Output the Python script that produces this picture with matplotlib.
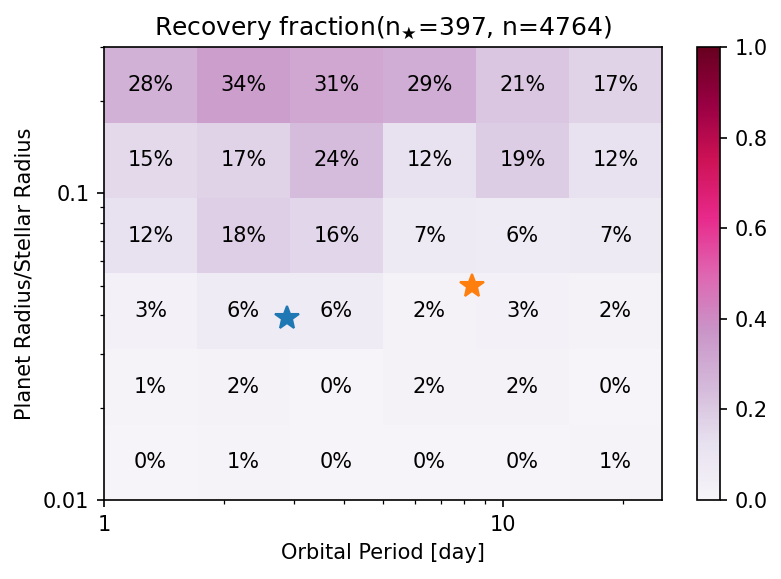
import numpy as np
import matplotlib
matplotlib.use('Agg')
import matplotlib.pyplot as plt

## DATA

period_edges = np.logspace(0, np.log10(25), 7)  # 6 period bins, 1-25 days
radius_edges = np.logspace(-2, np.log10(0.3), 7)  # 6 radius-ratio bins

# recovery percentages, rows from smallest radius bin (bottom) to largest (top)
recovery_pct = [
    [0, 1, 0, 0, 0, 1],
    [1, 2, 0, 2, 2, 0],
    [3, 6, 6, 2, 3, 2],
    [12, 18, 16, 7, 6, 7],
    [15, 17, 24, 12, 19, 12],
    [28, 34, 31, 29, 21, 17],
]

# highlighted planets
star_periods = [2.88, 8.37]
star_radii = [0.0393, 0.0498]
star_colors = ['tab:blue', 'tab:orange']

n_stars = 397
n_injections = 4764


## PLOT

frac = np.array(recovery_pct) / 100.0

fig = plt.figure(figsize=(782 / 150, 579 / 150), dpi=150)
ax = fig.add_axes([104 / 782, 79 / 579, 558 / 782, 453 / 579])
cax = fig.add_axes([697 / 782, 79 / 579, 23 / 782, 453 / 579])

mesh = ax.pcolormesh(period_edges, radius_edges, frac, cmap='PuRd', vmin=0, vmax=1)
ax.set_xscale('log')
ax.set_yscale('log')
ax.set_xlim(period_edges[0], period_edges[-1])
ax.set_ylim(radius_edges[0], radius_edges[-1])

# annotate each cell at its log-centre
xc = np.sqrt(period_edges[:-1] * period_edges[1:])
yc = np.sqrt(radius_edges[:-1] * radius_edges[1:])
for i in range(len(yc)):
    for j in range(len(xc)):
        ax.text(xc[j], yc[i], '{}%'.format(recovery_pct[i][j]),
                ha='center', va='center', fontsize=10)

for p, r, c in zip(star_periods, star_radii, star_colors):
    ax.plot(p, r, '*', color=c, markersize=12)

ax.set_xticks([1, 10])
ax.set_xticklabels(['1', '10'])
ax.set_yticks([0.01, 0.1])
ax.set_yticklabels(['0.01', '0.1'])
ax.set_xlabel('Orbital Period [day]')
ax.set_ylabel('Planet Radius/Stellar Radius')
ax.set_title(r'Recovery fraction(n$_\bigstar$={}, n={})'.format(n_stars, n_injections))

fig.colorbar(mesh, cax=cax)

fig.savefig('out.png', dpi=150)
